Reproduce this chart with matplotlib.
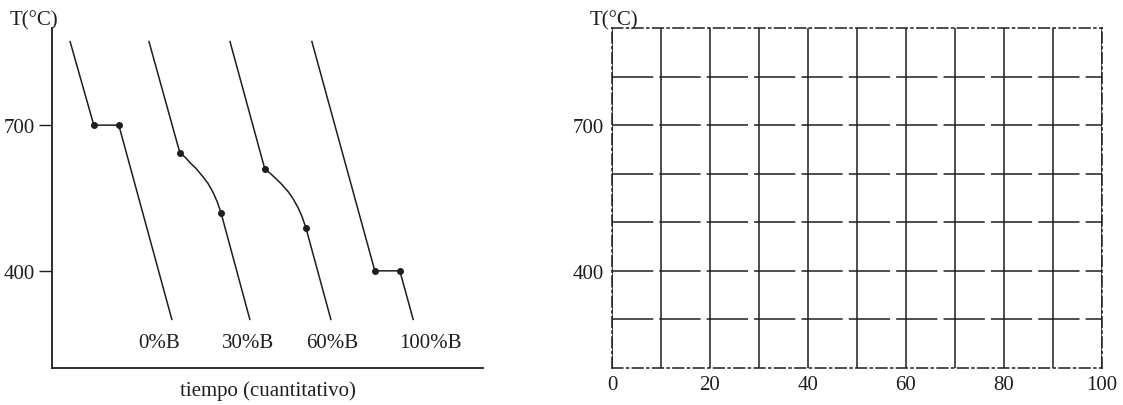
import matplotlib.pyplot as plt

plt.rcParams['font.family'] = ['Liberation Serif', 'DejaVu Serif']

# Curvas de enfriamiento (tiempo en unidades arbitrarias 0-100, T en °C)
t_0 = [4.2, 9.7, 15.5, 27.8]
T_0 = [872, 700, 700, 300]

t_30 = [22.5, 29.7, 30.9, 32.0, 33.4, 35.0, 36.2, 37.4, 38.3, 39.2, 45.9]
T_30 = [872, 642, 634, 623, 611, 594, 580, 561, 543, 520, 300]

t_60 = [41.3, 49.4, 50.6, 51.7, 53.1, 54.8, 55.9, 57.1, 58.0, 58.9, 64.7]
T_60 = [872, 609, 601, 592, 580, 563, 549, 530, 512, 489, 300]

t_100 = [60.3, 74.9, 80.7, 83.8]
T_100 = [872, 400, 400, 300]

# indices de los puntos marcados en cada curva
puntos_0 = [1, 2]
puntos_30 = [1, 9]
puntos_60 = [1, 9]
puntos_100 = [1, 2]

etiquetas = ['0%B', '30%B', '60%B', '100%B']
etiqueta_t = [24.8, 45.5, 65.0, 87.7]
etiqueta_T = 253

# ticks de los dos diagramas
yticks_izq = [400, 700]
xticks_der = [0, 20, 40, 60, 80, 100]
xticks_der_menor = [10, 30, 50, 70, 90]
yticks_der = [400, 700]
yticks_der_menor = [300, 500, 600, 800]

color = '#1e1e1e'
fig = plt.figure(figsize=(11.23, 4.06), dpi=100)

# ---- diagrama de la izquierda ----
ax1 = fig.add_axes([52 / 1123, 37 / 406, 431 / 1123, 340 / 406])
curvas = [(t_0, T_0, puntos_0), (t_30, T_30, puntos_30),
          (t_60, T_60, puntos_60), (t_100, T_100, puntos_100)]
for t, T, p in curvas:
    ax1.plot(t, T, color=color, lw=1.1, marker='o', markersize=4,
             markevery=p)
for txt, x in zip(etiquetas, etiqueta_t):
    ax1.text(x, etiqueta_T, txt, ha='center', va='center', fontsize=15,
             color=color)

ax1.set_xlim(0, 100)
ax1.set_ylim(200, 900)
ax1.set_xticks([])
ax1.set_yticks(yticks_izq)
ax1.tick_params(axis='y', length=9.5, width=1.0, pad=3, labelsize=15,
                colors=color)
for s in ['top', 'right']:
    ax1.spines[s].set_visible(False)
for s in ['left', 'bottom']:
    ax1.spines[s].set_linewidth(1.3)
    ax1.spines[s].set_color(color)
ax1.set_xlabel('tiempo (cuantitativo)', fontsize=15, color=color, labelpad=9)
fig.text(10 / 1123, 1 - 25 / 406, 'T(°C)', fontsize=15, color=color,
         va='baseline')

# ---- diagrama de la derecha (cuadricula vacia) ----
ax2 = fig.add_axes([612 / 1123, 37 / 406, 490 / 1123, 340 / 406])
ax2.set_xlim(0, 100)
ax2.set_ylim(200, 900)
ax2.set_xticks(xticks_der)
ax2.set_xticks(xticks_der_menor, minor=True)
ax2.set_yticks(yticks_der)
ax2.set_yticks(yticks_der_menor, minor=True)
ax2.tick_params(which='both', length=0, labelsize=15, colors=color)
ax2.tick_params(axis='x', pad=5)
ax2.tick_params(axis='y', pad=6)
ax2.grid(axis='x', which='both', color=color, lw=1.1, ls='-')
ax2.grid(axis='y', which='both', color=color, lw=1.1, ls=(0, (27, 4)))
for s in ax2.spines.values():
    s.set_linestyle((0, (7, 2.5, 1.3, 2.5)))
    s.set_linewidth(1.1)
    s.set_color(color)
fig.text(590 / 1123, 1 - 25 / 406, 'T(°C)', fontsize=15, color=color,
         va='baseline')

fig.savefig('out.png', dpi=100)
